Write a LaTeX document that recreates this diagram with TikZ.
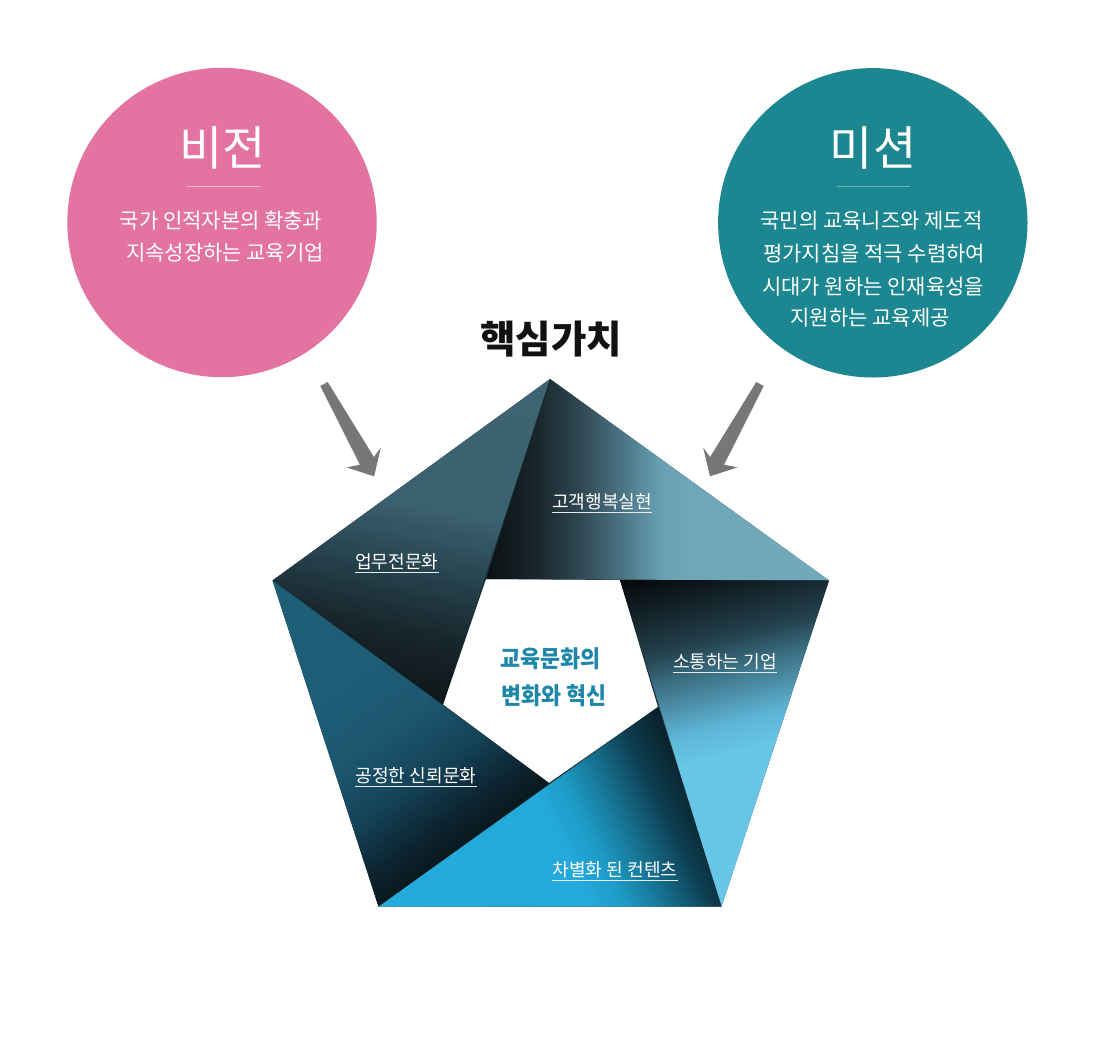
\documentclass[tikz,border=0pt]{standalone}
\usepackage{fontspec}
\setmainfont{Noto Sans CJK KR}
\usepackage{graphicx}
\definecolor{visionpink}{HTML}{E374A1}
\definecolor{missionteal}{HTML}{1C8790}
\definecolor{pinkrule}{HTML}{F1B9D0}
\definecolor{tealrule}{HTML}{6BB0B5}
\definecolor{arrowgray}{HTML}{777777}
\definecolor{coreblue}{HTML}{1E87AA}
\definecolor{titleblack}{HTML}{111111}
\definecolor{ringfill}{HTML}{1A3038}
\definecolor{ulcolor}{HTML}{E4ECEF}
% piece 1
\definecolor{pa0}{HTML}{0D1619}
\definecolor{pa1}{HTML}{172429}
\definecolor{pa2}{HTML}{25404B}
\definecolor{pa3}{HTML}{3B606F}
\definecolor{pa4}{HTML}{3E6574}
\pgfdeclarehorizontalshading{shadeA}{100bp}{color(0bp)=(pa0); color(25bp)=(pa0); color(34.29bp)=(pa1); color(42.86bp)=(pa2); color(52.86bp)=(pa3); color(75bp)=(pa4); color(100bp)=(pa4)}
% piece 2
\definecolor{pb0}{HTML}{080C0E}
\definecolor{pb1}{HTML}{0F1619}
\definecolor{pb2}{HTML}{1A282E}
\definecolor{pb3}{HTML}{2F4853}
\definecolor{pb4}{HTML}{4B7282}
\definecolor{pb5}{HTML}{67A0B3}
\definecolor{pb6}{HTML}{6FA7B9}
\definecolor{pb7}{HTML}{72AABC}
\pgfdeclarehorizontalshading{shadeB}{100bp}{color(0bp)=(pb0); color(25bp)=(pb0); color(27.82bp)=(pb1); color(33.45bp)=(pb2); color(39.08bp)=(pb3); color(44.72bp)=(pb4); color(50.35bp)=(pb5); color(54.58bp)=(pb6); color(75bp)=(pb7); color(100bp)=(pb7)}
% piece 3
\definecolor{pc0}{HTML}{020406}
\definecolor{pc1}{HTML}{142329}
\definecolor{pc2}{HTML}{24414D}
\definecolor{pc3}{HTML}{3A6D80}
\definecolor{pc4}{HTML}{4F93AD}
\definecolor{pc5}{HTML}{5DB5D5}
\definecolor{pc6}{HTML}{67C5E6}
\definecolor{pc7}{HTML}{68C7E7}
\pgfdeclarehorizontalshading{shadeC}{100bp}{color(0bp)=(pc0); color(25bp)=(pc0); color(31.43bp)=(pc1); color(37.14bp)=(pc2); color(41.43bp)=(pc3); color(45.71bp)=(pc4); color(49.29bp)=(pc5); color(53.57bp)=(pc6); color(75bp)=(pc7); color(100bp)=(pc7)}
% piece 4
\definecolor{pd0}{HTML}{24ABDC}
\definecolor{pd1}{HTML}{23A9DA}
\definecolor{pd2}{HTML}{1E9CC8}
\definecolor{pd3}{HTML}{166F8E}
\definecolor{pd4}{HTML}{0D3C4D}
\definecolor{pd5}{HTML}{081A22}
\pgfdeclarehorizontalshading{shadeD}{100bp}{color(0bp)=(pd0); color(25bp)=(pd0); color(52.86bp)=(pd1); color(57.14bp)=(pd2); color(62.86bp)=(pd3); color(68.57bp)=(pd4); color(75bp)=(pd5); color(100bp)=(pd5)}
% piece 5
\definecolor{pe0}{HTML}{08161B}
\definecolor{pe1}{HTML}{0D2430}
\definecolor{pe2}{HTML}{154358}
\definecolor{pe3}{HTML}{1C5870}
\definecolor{pe4}{HTML}{1E5D76}
\definecolor{pe5}{HTML}{1E5E77}
\pgfdeclarehorizontalshading{shadeE}{100bp}{color(0bp)=(pe0); color(25bp)=(pe0); color(30.22bp)=(pe1); color(37.69bp)=(pe2); color(46.64bp)=(pe3); color(55.60bp)=(pe4); color(75bp)=(pe5); color(100bp)=(pe5)}

\newcommand\gradtri[7]{%
  \begin{scope}
    \clip (#1) -- (#2) -- (#3) -- cycle;
    \begin{scope}[transform canvas={shift={(#5)}, rotate=#6}]
      \shade[shading=#4] (0,-600) rectangle (#7,600);
    \end{scope}
  \end{scope}}

\tikzset{
  circ/.style={circle, inner sep=0pt, minimum size=309.4pt},
  ttl/.style={text=white, inner sep=0pt, font=\fontsize{47}{51}\selectfont},
  sub/.style={text=white, inner sep=0pt, font=\fontsize{21}{24}\selectfont},
  lbl/.style={text=white, inner sep=0pt, font=\fontsize{18.1}{21}\selectfont},
  ul/.style={draw=ulcolor, line width=1.2pt},
  core/.style={text=coreblue, inner sep=0pt, font=\bfseries\fontsize{23.5}{27}\selectfont},
  blockarrow/.style={fill=arrowgray}
}

\begin{document}
\begin{tikzpicture}[x=1pt,y=-1pt]
\useasboundingbox[fill=white] (0,0) rectangle (1100,1041);

% circles
\node[circ, fill=visionpink] (vision) at (222,222.5) {};
\node[circ, fill=missionteal] (mission) at (872.8,222.8) {};

\node[ttl] (vtitle) at (222.3,147.5) {비전};
\draw[pinkrule, line width=1pt] (186.7,186) -- (260,186);
\node[sub] (v1) at (221,221) {국가 인적자본의 확충과};
\node[sub] (v2) at (225,253) {지속성장하는 교육기업};

\node[ttl] (mtitle) at (873,147.5) {미션};
\draw[tealrule, line width=1pt] (836.7,186) -- (910,186);
\node[sub] (m1) at (871.5,221) {국민의 교육니즈와 제도적};
\node[sub] (m2) at (874,253.5) {평가지침을 적극 수렴하여};
\node[sub] (m3) at (873,286.5) {시대가 원하는 인재육성을};
\node[sub] (m4) at (870,318) {지원하는 교육제공};

% title
\node[text=titleblack, inner sep=0pt, font=\bfseries\fontsize{38.5}{42}\selectfont] (core) at (551,339.5) {핵심가치};

% block arrows
\fill[blockarrow] (327.7,382.0) -- (373.9,457.0) -- (380.8,447.6) -- (374.1,476.3) -- (346.5,467.4) -- (359.9,464.7) -- (320.3,386.0) -- cycle;
\fill[blockarrow] (756.3,382.0) -- (710.1,457.0) -- (703.2,447.6) -- (709.9,476.3) -- (737.5,467.4) -- (724.1,464.7) -- (763.7,386.0) -- cycle;

% pentagon geometry
\coordinate (T) at (550,379);
\coordinate (R) at (829,580.5);
\coordinate (BR) at (721.5,906.5);
\coordinate (BL) at (378.5,906.5);
\coordinate (L) at (272.5,580.5);
\coordinate (I1) at (486,579);
\coordinate (I2) at (620,580);
\coordinate (I3) at (658,707);
\coordinate (I4) at (549,783);
\coordinate (I5) at (443,704.5);

\fill[ringfill, even odd rule] (T) -- (R) -- (BR) -- (BL) -- (L) -- cycle (I1) -- (I2) -- (I3) -- (I4) -- (I5) -- cycle;

\gradtri{T}{L}{I5}{shadeA}{442.0,709.4}{78.69}{350}
\gradtri{T}{R}{I1}{shadeB}{480,580}{0}{355}
\gradtri{R}{BR}{I2}{shadeC}{618.8,575.15}{-75.96}{350}
\gradtri{BR}{BL}{I3}{shadeD}{374.0,908.7}{26.57}{350}
\gradtri{BL}{L}{I4}{shadeE}{381.4,910.6}{125.93}{335}

% labels
\node[lbl] (k1) at (396.7,561.7) {업무전문화};
\node[lbl] (k2) at (602,501.7) {고객행복실현};
\node[lbl] (k3) at (725,661.8) {소통하는 기업};
\node[lbl] (k4) at (416,775.8) {공정한 신뢰문화};
\node[lbl] (k5) at (615,869.7) {차별화 된 컨텐츠};
\foreach \k in {k1,k2,k3,k4,k5}{
  \draw[ul] ([yshift=-2.4pt]\k.south west) -- ([yshift=-2.4pt]\k.south east);
}

\node[core] (c1) at (550.5,659) {\scalebox{0.926}[1]{교육문화의}};
\node[core] (c2) at (554,696) {\scalebox{0.926}[1]{변화와 혁신}};
\end{tikzpicture}
\end{document}
